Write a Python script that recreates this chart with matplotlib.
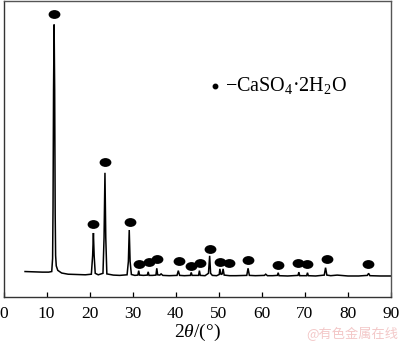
import numpy as np
import matplotlib
matplotlib.use("Agg")
import matplotlib.pyplot as plt
from matplotlib.path import Path
from matplotlib.transforms import Affine2D

plt.rcParams['font.family'] = ['Liberation Serif', 'DejaVu Serif']
plt.rcParams['mathtext.fontset'] = 'custom'
plt.rcParams['mathtext.rm'] = 'Liberation Serif'
plt.rcParams['mathtext.it'] = 'Liberation Serif:italic'

# XRD trace: 2theta (deg) and intensity (a.u.), vertices of the pattern
two_theta = [5.0, 7.0, 9.0, 10.5, 11.2, 11.4, 11.5, 11.62, 11.75, 11.88, 12.0, 12.1, 12.25, 12.6,
             13.5, 15.0, 17.0, 19.0, 20.4, 20.7, 20.88, 21.05, 21.3, 22.0, 23.1, 23.35, 23.56,
             23.75, 24.0, 25.5, 27.0, 28.7, 29.0, 29.2, 29.4, 29.7, 30.5, 31.2, 31.4, 31.6,
             32.5, 33.4, 33.6, 33.8, 34.6, 35.4, 35.6, 35.8, 36.3, 36.6, 37.0, 38.5, 40.3,
             40.6, 40.9, 42.0, 43.4, 43.6, 43.8, 45.3, 45.5, 45.7, 46.8, 47.6, 47.88, 48.1,
             48.5, 49.5, 50.1, 50.25, 50.5, 50.8, 51.0, 51.25, 52.5, 54.0, 56.5, 56.8, 57.1,
             58.5, 60.6, 60.9, 61.3, 62.5, 63.6, 63.8, 64.0, 66.0, 68.4, 68.6, 68.8, 70.4,
             70.6, 70.8, 72.5, 74.5, 74.8, 75.1, 76.0, 77.5, 80.0, 82.5, 84.5, 84.8, 85.1,
             87.5, 90.0]
intensity = [8.6, 8.5, 8.4, 8.4, 8.6, 13.0, 30.0, 70.0, 91.9, 70.0, 28.0, 14.0, 10.5, 9.0,
             8.1, 7.7, 7.6, 7.5, 7.7, 14.0, 21.6, 14.0, 8.0, 7.5, 8.0, 20.0, 41.9,
             20.0, 7.8, 7.4, 7.3, 7.5, 12.0, 22.6, 12.0, 7.6, 7.3, 7.4, 8.9, 7.4,
             7.3, 7.4, 8.5, 7.3, 7.3, 7.4, 9.7, 7.5, 7.4, 7.8, 7.3, 7.2, 7.3,
             8.9, 7.3, 7.2, 7.3, 8.3, 7.3, 7.3, 8.9, 7.3, 7.2, 8.0, 13.9, 8.0,
             7.3, 7.2, 7.6, 9.5, 7.6, 7.8, 9.5, 7.4, 7.2, 7.2, 7.3, 9.7, 7.3,
             7.2, 7.3, 7.7, 7.2, 7.2, 7.3, 8.2, 7.2, 7.1, 7.3, 8.4, 7.2, 7.2,
             8.2, 7.2, 7.1, 7.4, 9.9, 7.4, 7.2, 7.4, 7.1, 7.1, 7.3, 8.0, 7.2,
             7.1, 7.1]

# CaSO4·2H2O reflection markers
marker_x = [11.8, 20.88, 23.56, 29.28, 31.5, 33.7, 35.7, 40.7, 43.6, 45.6, 47.96, 50.3,
            52.3, 56.8, 63.8, 68.4, 70.6, 75.05, 84.6]
marker_y = [95.3, 24.6, 45.5, 25.4, 11.3, 11.7, 12.9, 12.1, 10.5, 11.6, 16.3, 11.7,
            11.4, 12.6, 10.8, 11.4, 11.0, 12.7, 11.3]

x_ticks = [0, 10, 20, 30, 40, 50, 60, 70, 80, 90]

fig = plt.figure(figsize=(4.0, 3.43), dpi=100)
ax = fig.add_axes([0.0088, 0.134, 0.9687, 0.8645])

ax.plot(two_theta, intensity, color='black', lw=1.1, solid_joinstyle='miter')

ellipse = Path.unit_circle().transformed(Affine2D().scale(1.0, 0.75))
ax.plot(marker_x, marker_y, linestyle='none', marker=ellipse, markersize=8.5,
        color='black', markeredgewidth=0)

ax.set_xlim(0, 90)
ax.set_ylim(0, 100)
ax.set_xticks(x_ticks)
ax.set_yticks([])
ax.tick_params(axis='x', direction='in', length=3.5, width=0.9, pad=6.5,
               labelsize=12.5, colors='black')
for side, sp in ax.spines.items():
    sp.set_linewidth(1.0)
    sp.set_color('#333333' if side in ('left', 'bottom') else '#555555')

ax.set_xlabel(r'$\mathit{2\theta}$/(°)', fontsize=14, labelpad=0)

# legend entry
ax.plot([49.2], [71.3], linestyle='none', marker='o', markersize=3.2, color='black')
ax.text(51.4, 71.3, '−CaSO$_4$·2H$_2$O', fontsize=14.5, va='center', ha='left')

fig.text(0.765, 0.025, '@有色金属在线', fontsize=9.5, color='#f3c8c8',
         family=['Noto Sans CJK SC', 'DejaVu Sans'], ha='left', va='center')

fig.savefig('out.png', dpi=100)
